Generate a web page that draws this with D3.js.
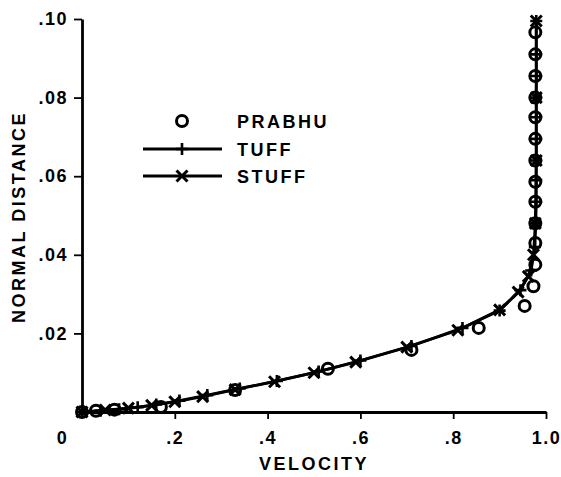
<!DOCTYPE html>
<html>
<head>
<meta charset="utf-8">
<script src="https://cdn.jsdelivr.net/npm/d3@7"></script>
<style>
  html, body { margin: 0; padding: 0; background: #fff; }
  svg text { font-family: "Liberation Sans", Arial, sans-serif; font-weight: bold; fill: #000; }
</style>
</head>
<body>
<svg id="chart" width="561" height="477"></svg>
<script>
// ---- data ----
const xTickValues = [0, 0.2, 0.4, 0.6, 0.8, 1.0];
const xTickLabels = ["0", ".2", ".4", ".6", ".8", "1.0"];
const yTickValues = [0.02, 0.04, 0.06, 0.08, 0.10];
const yTickLabels = [".02", ".04", ".06", ".08", ".10"];

const prabhuVel = [0, 0.03, 0.07, 0.17, 0.33, 0.53, 0.71, 0.855, 0.954, 0.973,
  0.977, 0.977, 0.977, 0.977, 0.977, 0.977, 0.977, 0.977, 0.977, 0.977, 0.977, 0.977];
const prabhuDist = [0, 0.0003, 0.0006, 0.0013, 0.0056, 0.011, 0.0158, 0.0214, 0.027, 0.032,
  0.0375, 0.043, 0.048, 0.0535, 0.0586, 0.064, 0.0695, 0.075, 0.080, 0.0855, 0.091, 0.0966];

const tuffVel = [0, 0.04, 0.08, 0.12, 0.16, 0.21, 0.27, 0.34, 0.42, 0.51, 0.60, 0.71, 0.82, 0.90,
  0.945, 0.968, 0.976, 0.978, 0.979, 0.979, 0.979, 0.979, 0.979, 0.979, 0.979, 0.979, 0.979];
const tuffDist = [0, 0.0003, 0.0007, 0.0012, 0.0019, 0.0029, 0.0043, 0.0060, 0.0079, 0.0103, 0.0131, 0.0168, 0.0214, 0.0258,
  0.0310, 0.0360, 0.0420, 0.0480, 0.0535, 0.0590, 0.0640, 0.0695, 0.0750, 0.0800, 0.0855, 0.0910, 0.0995];

const stuffVel = [0, 0.05, 0.10, 0.15, 0.20, 0.26, 0.33, 0.415, 0.50, 0.59, 0.70, 0.81, 0.90, 0.94,
  0.962, 0.973, 0.977, 0.979, 0.979, 0.979];
const stuffDist = [0, 0.0005, 0.0010, 0.0017, 0.0026, 0.0039, 0.0057, 0.0077, 0.0100, 0.0127, 0.0165, 0.0208, 0.0260, 0.0305,
  0.0345, 0.0400, 0.0480, 0.0640, 0.0800, 0.0995];

const legendNames = ["PRABHU", "TUFF", "STUFF"];

// ---- chart ----
const svg = d3.select("#chart");
const x = d3.scaleLinear().domain([0, 1.0]).range([82, 546]);
const y = d3.scaleLinear().domain([0, 0.10]).range([412, 19]);

const lineW = 2.8;
const fs = 18;

// axes
const xAxis = d3.axisBottom(x).tickValues(xTickValues)
  .tickFormat((d, i) => xTickLabels[i]).tickSize(7).tickSizeOuter(0).tickPadding(12);
const gx = svg.append("g").attr("transform", `translate(0,${y(0)})`).call(xAxis);
gx.select(".domain").attr("stroke", "#000").attr("stroke-width", lineW);
gx.selectAll(".tick line").attr("stroke", "#000").attr("stroke-width", 1.8);
gx.selectAll(".tick text").attr("font-size", fs).attr("font-family", "Liberation Sans, Arial, sans-serif")
  .attr("font-weight", "bold").style("letter-spacing", "1.5px").attr("fill", "#000");
gx.selectAll(".tick").filter(d => d === 0).select("line").remove();
gx.selectAll(".tick").filter(d => d === 0).select("text").attr("x", -20);

const yAxis = d3.axisLeft(y).tickValues(yTickValues)
  .tickFormat((d, i) => yTickLabels[i]).tickSize(8).tickSizeOuter(0).tickPadding(6);
const gy = svg.append("g").attr("transform", `translate(${x(0)},0)`).call(yAxis);
gy.select(".domain").attr("stroke", "#000").attr("stroke-width", lineW);
gy.selectAll(".tick line").attr("stroke", "#000").attr("stroke-width", 1.8);
gy.selectAll(".tick text").attr("font-size", fs).attr("font-family", "Liberation Sans, Arial, sans-serif")
  .attr("font-weight", "bold").style("letter-spacing", "1.5px").attr("fill", "#000");

// axis titles
svg.append("text").attr("x", 314).attr("y", 470).attr("text-anchor", "middle")
  .attr("font-size", fs).style("letter-spacing", "2.5px").text("VELOCITY");
svg.append("text").attr("transform", `translate(25,217) rotate(-90)`).attr("text-anchor", "middle")
  .attr("font-size", fs).style("letter-spacing", "2.5px").text("NORMAL DISTANCE");

// marker helpers
function plus(g, cx, cy, s) {
  g.append("path").attr("d", `M${cx - s},${cy}H${cx + s}M${cx},${cy - s}V${cy + s}`)
    .attr("stroke", "#000").attr("stroke-width", 2.6).attr("fill", "none");
}
function cross(g, cx, cy, s) {
  g.append("path").attr("d", `M${cx - s},${cy - s}L${cx + s},${cy + s}M${cx - s},${cy + s}L${cx + s},${cy - s}`)
    .attr("stroke", "#000").attr("stroke-width", 3).attr("fill", "none");
}

const line = d3.line().x(d => x(d[0])).y(d => y(d[1]));
const tuff = tuffVel.map((v, i) => [v, tuffDist[i]]);
const stuff = stuffVel.map((v, i) => [v, stuffDist[i]]);
const prabhu = prabhuVel.map((v, i) => [v, prabhuDist[i]]);

svg.append("path").datum(tuff).attr("d", line).attr("fill", "none")
  .attr("stroke", "#000").attr("stroke-width", lineW);
svg.append("path").datum(stuff).attr("d", line).attr("fill", "none")
  .attr("stroke", "#000").attr("stroke-width", lineW);

const gm = svg.append("g");
tuff.forEach(d => plus(gm, x(d[0]), y(d[1]), 6));
stuff.forEach(d => cross(gm, x(d[0]), y(d[1]), 5.5));

svg.append("g").selectAll("circle").data(prabhu).join("circle")
  .attr("cx", d => x(d[0])).attr("cy", d => y(d[1])).attr("r", 5.5)
  .attr("fill", "none").attr("stroke", "#000").attr("stroke-width", 3);

// legend
const lg = svg.append("g");
lg.append("circle").attr("cx", 182).attr("cy", 121).attr("r", 5.5)
  .attr("fill", "none").attr("stroke", "#000").attr("stroke-width", 3);
lg.append("line").attr("x1", 143).attr("x2", 222).attr("y1", 149).attr("y2", 149)
  .attr("stroke", "#000").attr("stroke-width", lineW);
plus(lg, 182, 149, 6);
lg.append("line").attr("x1", 143).attr("x2", 222).attr("y1", 176).attr("y2", 176)
  .attr("stroke", "#000").attr("stroke-width", lineW);
cross(lg, 182, 176, 5.5);
[121, 149, 176].forEach((yy, i) => {
  lg.append("text").attr("x", 237).attr("y", yy + 6.5).attr("font-size", fs)
    .style("letter-spacing", "2.5px").text(legendNames[i]);
});
</script>
</body>
</html>
